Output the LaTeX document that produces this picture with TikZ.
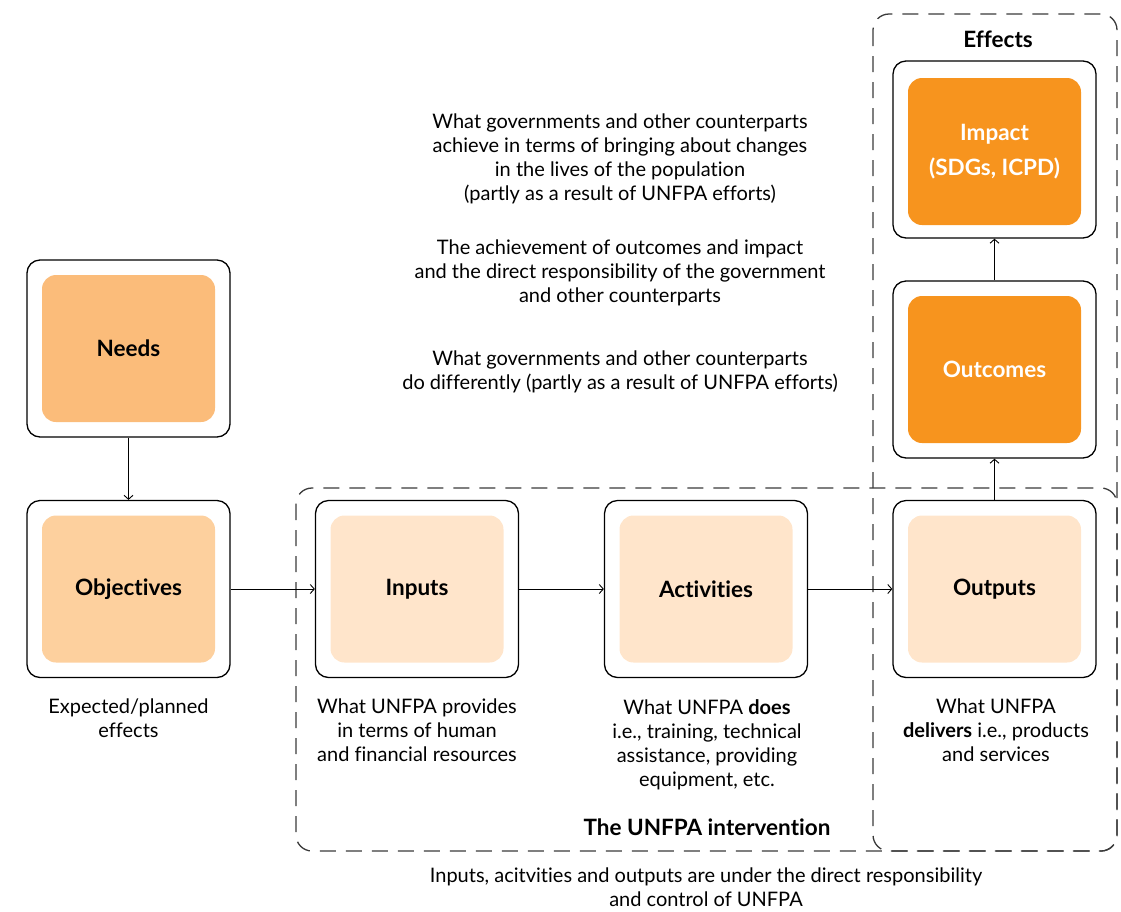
\documentclass[tikz,border=0pt]{standalone}
\usepackage{fontspec}
\setmainfont{Lato}[Ligatures=CommonOff]
\usetikzlibrary{positioning, calc, arrows.meta}

\definecolor{needsfill}{HTML}{FBBC7A}
\definecolor{objfill}{HTML}{FDD09E}
\definecolor{paleorange}{HTML}{FFE5CB}
\definecolor{deeporange}{HTML}{F7941E}
\definecolor{dashgray}{HTML}{3A3A3A}

\tikzset{
  outerbox/.style={draw, line width=1.3pt, rounded corners=13pt,
    minimum width=203pt, minimum height=177pt, inner sep=0pt},
  innerbox/.style={fill=#1, rounded corners=14pt, minimum width=173pt,
    minimum height=147pt, inner sep=0pt, align=center,
    font=\bfseries\fontsize{22.5}{35}\selectfont},
  note/.style={align=center, inner sep=0pt, anchor=north,
    font=\fontsize{20}{24}\selectfont},
  frame/.style={draw=dashgray, line width=1.3pt, dash pattern=on 16pt off 10pt,
    rounded corners=16pt},
  conn/.style={-{Straight Barb[length=4pt, width=9pt]}, line width=0.9pt}
}

\begin{document}
\begin{tikzpicture}[x=1pt, y=-1pt]
\useasboundingbox (0,0) rectangle (1121,911);

% dashed frames
\draw[frame] (296,488) rectangle (1117,851);
\draw[frame] (873,14) rectangle (1117,851);

% left column
\node[outerbox] (needs) at (128.5,348.5) {};
\node[innerbox=needsfill] (needsin) at (needs.center) {Needs};
\node[outerbox] (obj) at (128.5,589) {};
\node[innerbox=objfill] (objin) at (obj.center) {Objectives};

% the intervention
\foreach \name/\x/\txt in {inputs/417/Inputs, act/706/Activities, outputs/994.5/Outputs}
{
  \node[outerbox] (\name) at (\x,589) {};
  \node[innerbox=paleorange] (\name in) at (\name.center) {\txt};
}

% effects
\node[outerbox] (outc) at (994.5,369.5) {};
\node[innerbox=deeporange, text=white] (outcin) at (outc.center) {Outcomes};
\node[outerbox] (imp) at (994.5,149.5) {};
\node[innerbox=deeporange, text=white] (impin) at ($(imp.center)+(0,2)$) {Impact\\(SDGs, ICPD)};

% connectors
\draw[conn] (needs) -- (obj);
\draw[conn] (obj) -- (inputs);
\draw[conn] (inputs) -- (act);
\draw[conn] (act) -- (outputs);
\draw[conn] (outputs) -- (outc);
\draw[conn] (outc) -- (imp);

% titles
\node[font=\bfseries\fontsize{22.5}{24}\selectfont] (efftitle) at (998,39) {Effects};
\node[font=\bfseries\fontsize{22.5}{24}\selectfont] (inttitle) at (707,827) {The UNFPA intervention};

% explanations
\node[note] (txtimp) at (620,114) {What governments and other counterparts\\
  achieve in terms of bringing about changes\\in the lives of the population\\
  (partly as a result of UNFPA efforts)};
\node[note] (txtresp) at (620,240) {The achievement of outcomes and impact\\
  and the direct responsibility of the government\\and other counterparts};
\node[note] (txtoutc) at (620,351) {What governments and other counterparts\\
  do differently (partly as a result of UNFPA efforts)};

\node[note] (txtobj) at (128.5,699) {Expected/planned\\effects};
\node[note] (txtinp) at (417,699) {What UNFPA provides\\in terms of human\\and financial resources};
\node[note] (txtact) at (707,699) {What UNFPA \textbf{does}\\i.e., training, technical\\assistance, providing\\equipment, etc.};
\node[note] (txtout) at (996,699) {What UNFPA\\\textbf{delivers} i.e., products\\and services};

\node[note] (txtbottom) at (706,868) {Inputs, acitvities and outputs are under the direct responsibility\\
  and control of UNFPA};
\end{tikzpicture}
\end{document}
